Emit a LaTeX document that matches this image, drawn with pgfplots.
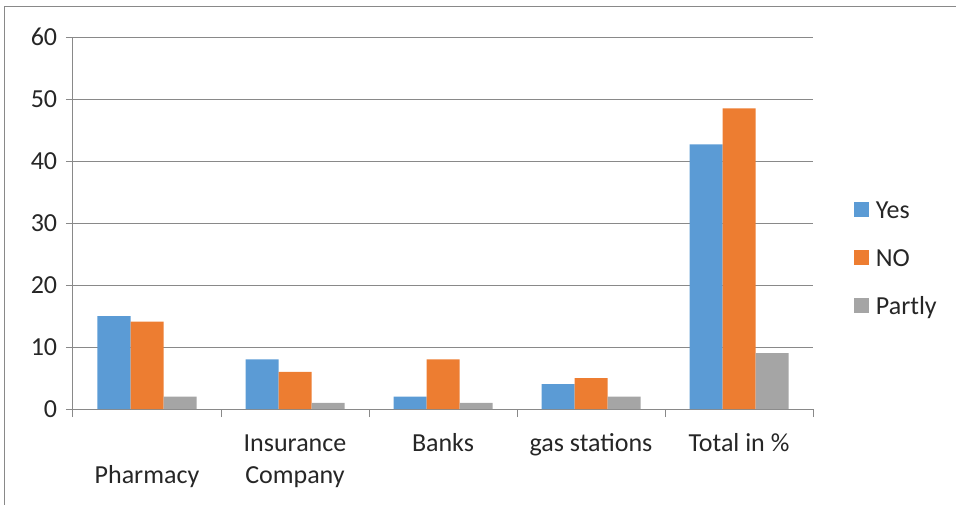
\documentclass[border=0pt]{standalone}
\usepackage{pgfplots}
\pgfplotsset{compat=1.18}
\usepackage{fontspec}
\setmainfont{Carlito}
\definecolor{cYes}{HTML}{5B9BD5}
\definecolor{cNo}{HTML}{ED7D31}
\definecolor{cPartly}{HTML}{A5A5A5}
\definecolor{gridc}{HTML}{898989}
\definecolor{txt}{HTML}{262626}
\begin{document}
\fontsize{26}{32}\selectfont
\begin{tikzpicture}
\useasboundingbox (-73pt,-95pt) rectangle (883pt,409pt);
\draw[gridc, line width=1pt] (-68pt,-100pt) -- (-68pt,402pt) -- (890pt,402pt);
\begin{axis}[
  at={(0pt,0pt)}, anchor=south west,
  scale only axis, width=740pt, height=372pt,
  ybar=0pt, bar width=33pt,
  xmin=-0.5, xmax=4.5, ymin=0, ymax=60,
  xtick={0,1,2,3,4},
  xticklabels={{\strut\\Pharmacy},{\strut Insurance\\Company},{\strut Banks},{\strut gas stations},{\strut Total in \%}},
  xticklabel style={align=center, text=txt, yshift=-4pt},
  major x tick style={draw=none},
  extra x ticks={-0.5,0.5,1.5,2.5,3.5,4.5},
  extra x tick labels={},
  extra x tick style={major tick length=8pt, tick align=outside, grid=none, major x tick style={draw=gridc}},
  ytick={0,10,...,60},
  yticklabel style={text=txt},
  /pgf/number format/assume math mode=true,
  ymajorgrids, grid style={gridc, line width=1pt},
  axis x line*=bottom, axis y line*=left,
  axis line style={gridc, line width=1pt},
  tick style={gridc, line width=1pt},
  tick align=outside, major tick length=7pt,
  legend style={at={(1.055,0.398)}, anchor=west, draw=none, fill=none,
    inner sep=0pt, row sep=18pt, text=txt,
    nodes={inner ysep=3pt, inner xsep=7pt, text height=18pt, text depth=6pt}},
  legend cell align=left,
  legend image code/.code={\fill[#1] (0pt,-4pt) rectangle (15pt,11pt);},
]
\addplot[fill=cYes, draw=none] coordinates {(0,15) (1,8) (2,2) (3,4) (4,42.7)};
\addplot[fill=cNo, draw=none] coordinates {(0,14.1) (1,6) (2,8) (3,5) (4,48.5)};
\addplot[fill=cPartly, draw=none] coordinates {(0,2) (1,1) (2,1) (3,2) (4,9)};
\legend{Yes,NO,Partly}
\end{axis}
\end{tikzpicture}
\end{document}
